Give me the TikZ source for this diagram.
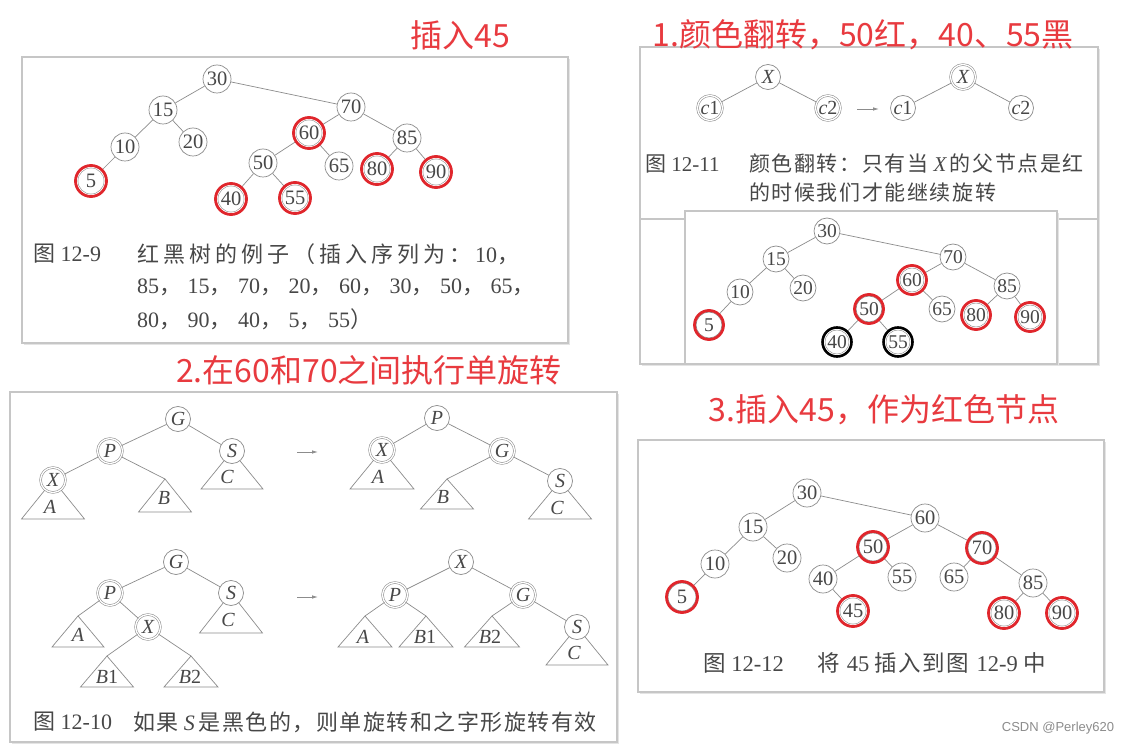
\documentclass[tikz,border=0pt]{standalone}
\usepackage{fontspec}
\setmainfont{Liberation Serif}
\newfontfamily\cjk{Noto Sans CJK SC}
\newfontfamily\wmfont{Liberation Sans}
\usetikzlibrary{arrows.meta,calc}
\definecolor{redt}{HTML}{E83A3F}
\definecolor{ringc}{HTML}{E0262C}
\definecolor{ln}{HTML}{8C8C8C}
\definecolor{txt}{HTML}{474747}
\definecolor{frame}{HTML}{C6C6C6}
\definecolor{shd}{HTML}{E4E4E4}
\newdimen\cjkgap
\def\gA{\cjkgap=4pt\relax}
\def\gE{\cjkgap=6.5pt\relax}
\def\gB{\cjkgap=1.6pt\relax}
\def\gC{\cjkgap=1.5pt\relax}
\def\gD{\cjkgap=1.5pt\relax}
\def\spc#1{{\cjk\spcloop#1\relax}}
\def\spcloop#1{\ifx#1\relax\else#1\hskip\cjkgap\relax\expandafter\spcloop\fi}
\newcommand\myring[2][15.5]{\draw[rr] (#2.center) circle[radius=#1];}
\newcommand\myblk[2][15]{\draw[br] (#2.center) circle[radius=#1];}
\newcommand\mypanel[4]{\fill[shd] ({#1+2},{#2+2}) rectangle ({#3+2},{#4+2});\draw[pnl] (#1,#2) rectangle (#3,#4);}
\begin{document}
\begin{tikzpicture}[x=1pt,y=-1pt,
  nd/.style={circle,draw=ln,line width=0.7pt,fill=white,minimum size=28pt,inner sep=0pt,text=txt,font=\fontsize{20.5}{20.5}\selectfont},
  dn/.style={nd,double=white,double distance=1.3pt,line width=0.55pt},
  sm/.style={minimum size=26pt,font=\fontsize{19.5}{19.5}\selectfont},
  lt/.style={minimum size=25pt,font=\fontsize{20}{20}\selectfont\itshape},
  ed/.style={draw=ln,line width=0.7pt},
  rr/.style={draw=ringc,line width=2.8pt},
  br/.style={draw=black,line width=2.6pt},
  pnl/.style={draw=frame,line width=1.1pt,fill=white},
  tl/.style={inner sep=0pt,text=txt,font=\fontsize{20}{20}\selectfont\itshape},
  arr/.style={draw=ln,line width=0.8pt,-{Latex[length=6pt,width=3.5pt]}},
  tt/.style={inner sep=0pt,text=redt,font=\cjk\fontsize{32}{32}\selectfont},
  capA/.style={anchor=west,inner sep=0pt,text=txt,font=\fontsize{22}{22}\selectfont\gA},
  capE/.style={anchor=west,inner sep=0pt,text=txt,font=\fontsize{22}{22}\selectfont\gE},
  capB/.style={anchor=west,inner sep=0pt,text=txt,font=\fontsize{21}{21}\selectfont\gB},
  capC/.style={anchor=west,inner sep=0pt,text=txt,font=\fontsize{22}{22}\selectfont\gC},
  capD/.style={anchor=west,inner sep=0pt,text=txt,font=\fontsize{22.5}{22.5}\selectfont\gD},
]
\useasboundingbox (0,0) rectangle (1136,754);
\fill[white] (0,0) rectangle (1136,754);

% ================= panel 1 =================
\mypanel{22}{57}{568}{343}
\node[nd] (a30) at (217,79) {30};
\node[nd] (a15) at (163,110) {15};
\node[nd] (a20) at (193,142) {20};
\node[nd] (a10) at (125,147) {10};
\node[dn] (a5) at (91,181) {5};
\node[nd] (a70) at (351,107) {70};
\node[dn] (a60) at (309,133) {60};
\node[nd] (a50) at (263,163) {50};
\node[nd] (a65) at (339,166) {65};
\node[dn] (a40) at (231,199) {40};
\node[dn] (a55) at (295,198) {55};
\node[nd] (a85) at (407,138) {85};
\node[dn] (a80) at (377,169) {80};
\node[dn] (a90) at (436,172) {90};
\foreach \p/\c in {a30/a15,a30/a70,a15/a10,a15/a20,a10/a5,a70/a60,a70/a85,a60/a50,a60/a65,a50/a40,a50/a55,a85/a80,a85/a90}
  {\draw[ed] (\p) -- (\c);}
\foreach \n in {a5,a60,a40,a55,a80,a90} {\myring{\n}}
\node[capA] (c1a) at (33,254) {{\cjk 图}\ 12-9};
\node[capA] (c1b) at (137,254) {\spc{红黑树的例子（插入序列为：}10\spc{，}};
\node[capE] (c1c) at (137,287) {85\spc{，}15\spc{，}70\spc{，}20\spc{，}60\spc{，}30\spc{，}50\spc{，}65\spc{，}};
\node[capE] (c1d) at (137,319) {80\spc{，}90\spc{，}40\spc{，}5\spc{，}55\spc{）}};

% ================= panel 2 =================
\mypanel{640}{47}{1098}{364}
\draw[draw=frame,line width=1.1pt] (640,219) -- (1098,219);
\node[nd,lt] (bX) at (768,77) {X};
\node[dn,lt] (bc1) at (710,108) {c\upshape 1};
\node[dn,lt] (bc2) at (828,108) {c\upshape 2};
\draw[ed] (bX) -- (bc1);
\draw[ed] (bX) -- (bc2);
\coordinate (b1s) at (857,109);
\coordinate (b1e) at (879,109);
\draw[arr] (b1s) -- (b1e);
\node[dn,lt] (bX2) at (963,77) {X};
\node[nd,lt] (bd1) at (903,108) {c\upshape 1};
\node[nd,lt] (bd2) at (1021,108) {c\upshape 2};
\draw[ed] (bX2) -- (bd1);
\draw[ed] (bX2) -- (bd2);
\node[capB] (c2a) at (645,164) {{\cjk 图}\ 12-11};
\node[capB] (c2b) at (749,164) {\spc{颜色翻转：只有当}\,{\itshape X}\,\spc{的父节点是红}};
\node[capB] (c2c) at (749,193) {\spc{的时候我们才能继续旋转}};

% inner panel
\mypanel{685}{211}{1057}{364}
\node[nd,sm] (e30) at (827,231) {30};
\node[nd,sm] (e15) at (776,259) {15};
\node[nd,sm] (e10) at (740,292) {10};
\node[nd,sm] (e20) at (803,288) {20};
\node[nd,sm] (e5) at (709,325) {5};
\node[nd,sm] (e70) at (953,257) {70};
\node[dn,sm] (e60) at (912,280) {60};
\node[nd,sm] (e50) at (869,309) {50};
\node[nd,sm] (e65) at (942,309) {65};
\node[dn,sm] (e40) at (837,342) {40};
\node[dn,sm] (e55) at (898,342) {55};
\node[nd,sm] (e85) at (1007,286) {85};
\node[dn,sm] (e80) at (976,315) {80};
\node[dn,sm] (e90) at (1030,317) {90};
\foreach \p/\c in {e30/e15,e30/e70,e15/e10,e15/e20,e10/e5,e70/e60,e70/e85,e60/e50,e60/e65,e50/e40,e50/e55,e85/e80,e85/e90}
  {\draw[ed] (\p) -- (\c);}
\foreach \n in {e5,e60,e50,e80,e90} {\myring[14.5]{\n}}
\foreach \n in {e40,e55} {\myblk[14.5]{\n}}

% ================= panel 3 =================
\mypanel{10}{392}{617}{742}
% top-left tree
\coordinate (gX) at (53,480);
\coordinate (gS) at (232,451);
\coordinate (gB) at (165,479);
\draw[ed] (gX) -- ++(-31.5,39) -- ++(63,0) -- cycle;
\draw[ed] (gS) -- ++(-31,38) -- ++(62,0) -- cycle;
\draw[ed] (gB) -- ++(-26.5,33) -- ++(53,0) -- cycle;
\node[nd,lt] (gG1) at (178,419) {G};
\node[dn,lt] (gP1) at (110,451) {P};
\node[nd,lt] (gS1) at (gS) {S};
\node[dn,lt] (gX1) at (gX) {X};
\draw[ed] (gG1) -- (gP1);
\draw[ed] (gG1) -- (gS1);
\draw[ed] (gP1) -- (gX1);
\draw[ed] (gP1) -- (gB);
\node[tl] (gA1) at (50,507) {A};
\node[tl] (gB1) at (164,498) {B};
\node[tl] (gC1) at (227,477) {C};
\coordinate (h1s) at (297,452);
\coordinate (h1e) at (318,452);
\draw[arr] (h1s) -- (h1e);
% top-right tree
\coordinate (hX) at (382,450);
\coordinate (hS) at (560,481);
\coordinate (hB) at (447,479);
\draw[ed] (hX) -- ++(-32,39) -- ++(64,0) -- cycle;
\draw[ed] (hS) -- ++(-31.5,38) -- ++(63,0) -- cycle;
\draw[ed] (hB) -- ++(-26.5,30) -- ++(53,0) -- cycle;
\node[nd,lt] (hP1) at (437,418) {P};
\node[dn,lt] (hX1) at (hX) {X};
\node[dn,lt] (hG1) at (502,451) {G};
\node[nd,lt] (hS1) at (hS) {S};
\draw[ed] (hP1) -- (hX1);
\draw[ed] (hP1) -- (hG1);
\draw[ed] (hG1) -- (hB);
\draw[ed] (hG1) -- (hS1);
\node[tl] (hA1) at (378,477) {A};
\node[tl] (hB1) at (443,497) {B};
\node[tl] (hC1) at (557,508) {C};
% bottom-left tree
\coordinate (iS) at (231,593);
\coordinate (iA) at (78,616);
\coordinate (iB1) at (107,656);
\coordinate (iB2) at (191,656);
\draw[ed] (iS) -- ++(-31.5,40) -- ++(63,0) -- cycle;
\draw[ed] (iA) -- ++(-26,31) -- ++(52,0) -- cycle;
\draw[ed] (iB1) -- ++(-26.5,31) -- ++(53,0) -- cycle;
\draw[ed] (iB2) -- ++(-27,31) -- ++(54,0) -- cycle;
\node[nd,lt] (iG) at (176,562) {G};
\node[dn,lt] (iP) at (110,593) {P};
\node[nd,lt] (iS1) at (iS) {S};
\node[dn,lt] (iX) at (148,627) {X};
\draw[ed] (iG) -- (iP);
\draw[ed] (iG) -- (iS1);
\draw[ed] (iP) -- (iA);
\draw[ed] (iP) -- (iX);
\draw[ed] (iX) -- (iB1);
\draw[ed] (iX) -- (iB2);
\node[tl] (iAl) at (78,635) {A};
\node[tl] (iB1l) at (107,677) {B\upshape 1};
\node[tl] (iB2l) at (190,677) {B\upshape 2};
\node[tl] (iCl) at (228,620) {C};
\coordinate (j1s) at (297,597);
\coordinate (j1e) at (318,597);
\draw[arr] (j1s) -- (j1e);
% bottom-right tree
\coordinate (jS) at (577,627);
\coordinate (jA) at (365,616);
\coordinate (jB1) at (426,616);
\coordinate (jB2) at (492,616);
\draw[ed] (jS) -- ++(-31,38) -- ++(62,0) -- cycle;
\draw[ed] (jA) -- ++(-27,31) -- ++(54,0) -- cycle;
\draw[ed] (jB1) -- ++(-27,31) -- ++(54,0) -- cycle;
\draw[ed] (jB2) -- ++(-27.5,31) -- ++(55,0) -- cycle;
\node[nd,lt] (jX) at (461,562) {X};
\node[dn,lt] (jP) at (395,595) {P};
\node[dn,lt] (jG) at (523,595) {G};
\node[nd,lt] (jS1) at (jS) {S};
\draw[ed] (jX) -- (jP);
\draw[ed] (jX) -- (jG);
\draw[ed] (jP) -- (jA);
\draw[ed] (jP) -- (jB1);
\draw[ed] (jG) -- (jB2);
\draw[ed] (jG) -- (jS1);
\node[tl] (jAl) at (363,637) {A};
\node[tl] (jB1l) at (425,637) {B\upshape 1};
\node[tl] (jB2l) at (490,637) {B\upshape 2};
\node[tl] (jCl) at (574,653) {C};
\node[capC] (c3a) at (33,722) {{\cjk 图}\ 12-10};
\node[capC] (c3b) at (133,722) {\spc{如果}\,{\itshape S}\,\spc{是黑色的，则单旋转和之字形旋转有效}};

% ================= panel 4 =================
\mypanel{638}{440}{1104}{692}
\node[nd] (k30) at (807,493) {30};
\node[nd] (k15) at (753,527) {15};
\node[nd] (k10) at (715,564) {10};
\node[nd] (k20) at (787,558) {20};
\node[nd] (k5) at (682,597) {5};
\node[nd] (k60) at (925,518) {60};
\node[nd] (k50) at (873,547) {50};
\node[nd] (k40) at (823,579) {40};
\node[dn] (k45) at (853,611) {45};
\node[nd] (k55) at (902,577) {55};
\node[nd] (k70) at (982,548) {70};
\node[nd] (k65) at (954,577) {65};
\node[nd] (k85) at (1033,583) {85};
\node[dn] (k80) at (1004,613) {80};
\node[dn] (k90) at (1062,613) {90};
\foreach \p/\c in {k30/k15,k30/k60,k15/k10,k15/k20,k10/k5,k60/k50,k60/k70,k50/k40,k50/k55,k40/k45,k70/k65,k70/k85,k85/k80,k85/k90}
  {\draw[ed] (\p) -- (\c);}
\foreach \n in {k5,k50,k45,k70,k80,k90} {\myring{\n}}
\node[capD] (c4a) at (703,663) {{\cjk 图}\ 12-12};
\node[capD] (c4b) at (817,663) {\spc{将}\ 45\ \spc{插入到图}\ 12-9\ \spc{中}};

% ================= titles =================
\node[tt] (t0) at (460,35) {插入45};
\node[tt] (t1) at (863,35) {1.颜色翻转，50红，40、55黑};
\node[tt] (t2) at (369,370) {2.在60和70之间执行单旋转};
\node[tt] (t3) at (884,410) {3.插入45，作为红色节点};
\node[inner sep=0pt,text=black!45,font=\wmfont\fontsize{13}{13}\selectfont] (wm) at (1058,728) {CSDN @Perley620};
\end{tikzpicture}
\end{document}
